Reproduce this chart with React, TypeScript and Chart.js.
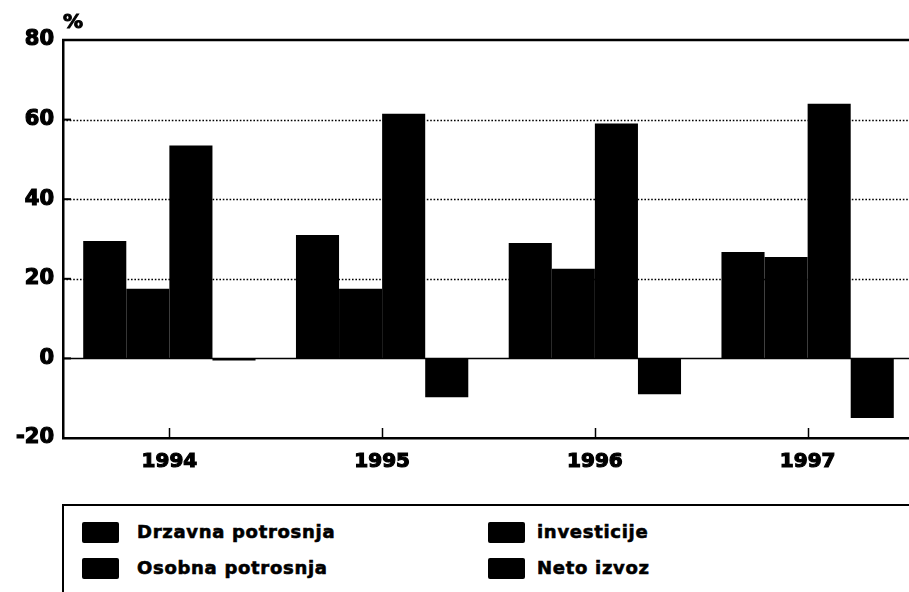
import React, { useEffect, useRef } from "react";
import { Chart, registerables } from "chart.js";

Chart.register(...registerables);

const YEARS = ["1994", "1995", "1996", "1997"];
const DRZAVNA = [29.5, 31, 29, 26.75];
const OSOBNA = [17.5, 17.5, 22.5, 25.5];
const INVESTICIJE = [53.5, 61.5, 59, 64];
const NETO_IZVOZ = [-0.5, -9.75, -9, -15];
const SERIES_NAMES = ["Drzavna potrosnja", "Osobna potrosnja", "investicije", "Neto izvoz"];
const Y_MIN = -20;
const Y_MAX = 80;
const Y_STEP = 20;
const UNIT = "%";

const FONT = '"DejaVu Sans", "Liberation Sans", sans-serif';

const refPlugin = {
  id: "refPlugin",
  beforeDatasetsDraw(chart: any) {
    const { ctx, chartArea: a, scales } = chart;
    const y = scales.y;
    ctx.save();
    ctx.strokeStyle = "#000";
    for (const t of y.ticks) {
      const v = t.value;
      if (v === Y_MIN || v === Y_MAX) continue;
      const py = Math.round(y.getPixelForValue(v)) + 0.5;
      ctx.beginPath();
      if (v === 0) {
        ctx.setLineDash([]);
        ctx.lineWidth = 1.6;
      } else {
        ctx.setLineDash([1.6, 1.8]);
        ctx.lineWidth = 1.4;
      }
      ctx.moveTo(a.left, py);
      ctx.lineTo(a.right, py);
      ctx.stroke();
    }
    ctx.restore();
  },
  afterDraw(chart: any) {
    const { ctx, chartArea: a, scales } = chart;
    const y = scales.y;
    const x = scales.x;
    ctx.save();
    ctx.strokeStyle = "#000";
    ctx.setLineDash([]);
    ctx.lineWidth = 2.5;
    ctx.beginPath();
    ctx.moveTo(a.left - 1, a.top);
    ctx.lineTo(a.right, a.top);
    ctx.stroke();
    ctx.lineWidth = 2;
    for (const t of y.ticks) {
      const py = y.getPixelForValue(t.value);
      if (t.value === Y_MIN) continue;
      ctx.beginPath();
      ctx.moveTo(a.left, py);
      ctx.lineTo(a.left + 8, py);
      ctx.stroke();
    }
    ctx.lineWidth = 1.5;
    for (let i = 0; i < x.ticks.length; i++) {
      const px = Math.round(x.getPixelForTick(i)) + 0.5;
      ctx.beginPath();
      ctx.moveTo(px, a.bottom);
      ctx.lineTo(px, a.bottom - 10);
      ctx.stroke();
    }
    ctx.fillStyle = "#000";
    ctx.font = `bold 20px ${FONT}`;
    ctx.textAlign = "left";
    ctx.textBaseline = "alphabetic";
    ctx.lineWidth = 1;
    ctx.strokeText(UNIT, a.left, 28);
    ctx.fillText(UNIT, a.left, 28);
    ctx.restore();
  },
};

function BarChart() {
  const ref = useRef<HTMLCanvasElement | null>(null);
  useEffect(() => {
    if (!ref.current) return;
    const series = [DRZAVNA, OSOBNA, INVESTICIJE, NETO_IZVOZ];
    const chart = new Chart(ref.current, {
      type: "bar",
      data: {
        labels: YEARS,
        datasets: series.map((d, i) => ({
          label: SERIES_NAMES[i],
          data: d,
          backgroundColor: "#000",
          borderWidth: 0,
          categoryPercentage: 0.81,
          barPercentage: 1.0,
        })),
      },
      options: {
        animation: false,
        responsive: false,
        maintainAspectRatio: false,
        layout: { padding: { left: 0, top: 40, right: 0, bottom: 0 } },
        plugins: {
          legend: { display: false },
          tooltip: { enabled: false },
        },
        scales: {
          x: {
            type: "category",
            offset: true,
            grid: { display: false, drawTicks: false },
            border: { display: true, color: "#000", width: 2.5 },
            ticks: {
              color: "#000",
              font: { family: FONT, weight: "bold", size: 20 },
              textStrokeColor: "#000",
              textStrokeWidth: 1.2,
              padding: 12,
              maxRotation: 0,
            },
            afterFit: (s: any) => {
              s.height = 500 - 438;
            },
          },
          y: {
            min: Y_MIN,
            max: Y_MAX,
            grid: { display: false, drawTicks: false },
            border: { display: true, color: "#000", width: 2.5 },
            ticks: {
              stepSize: Y_STEP,
              color: "#000",
              font: { family: FONT, weight: "bold", size: 21 },
              textStrokeColor: "#000",
              textStrokeWidth: 1.2,
              padding: 9,
            },
            afterFit: (s: any) => {
              s.width = 63;
            },
          },
        },
      },
      plugins: [refPlugin],
    } as any);
    return () => chart.destroy();
  }, []);
  return <canvas ref={ref} width={914} height={500} style={{ display: "block" }} />;
}

function Legend() {
  const colX = [[82, 137], [488, 537]];
  const rowY = [522, 558];
  return (
    <div
      style={{
        position: "absolute",
        left: 62,
        top: 504,
        width: 900,
        height: 120,
        borderTop: "2px solid #000",
        borderLeft: "2px solid #000",
        boxSizing: "border-box",
      }}
    >
      {SERIES_NAMES.map((name, i) => {
        const c = Math.floor(i / 2);
        const r = i % 2;
        return (
          <React.Fragment key={name}>
            <div
              style={{
                position: "absolute",
                left: colX[c][0] - 64,
                top: rowY[r] - 506,
                width: 37,
                height: 21,
                background: "#000",
                borderRadius: 2,
              }}
            />
            <div
              style={{
                position: "absolute",
                left: colX[c][1] - 64,
                top: rowY[r] - 506 - 1,
                height: 22,
                lineHeight: "22px",
                fontFamily: FONT,
                fontWeight: "bold",
                fontSize: 18,
                letterSpacing: "0.7px",
                WebkitTextStroke: "0.6px #000",
                color: "#000",
                whiteSpace: "nowrap",
              }}
            >
              {name}
            </div>
          </React.Fragment>
        );
      })}
    </div>
  );
}

export default function App() {
  return (
    <div
      style={{
        position: "absolute",
        left: 0,
        top: 0,
        width: 909,
        height: 592,
        overflow: "hidden",
        background: "#fff",
      }}
    >
      <BarChart />
      <Legend />
    </div>
  );
}
